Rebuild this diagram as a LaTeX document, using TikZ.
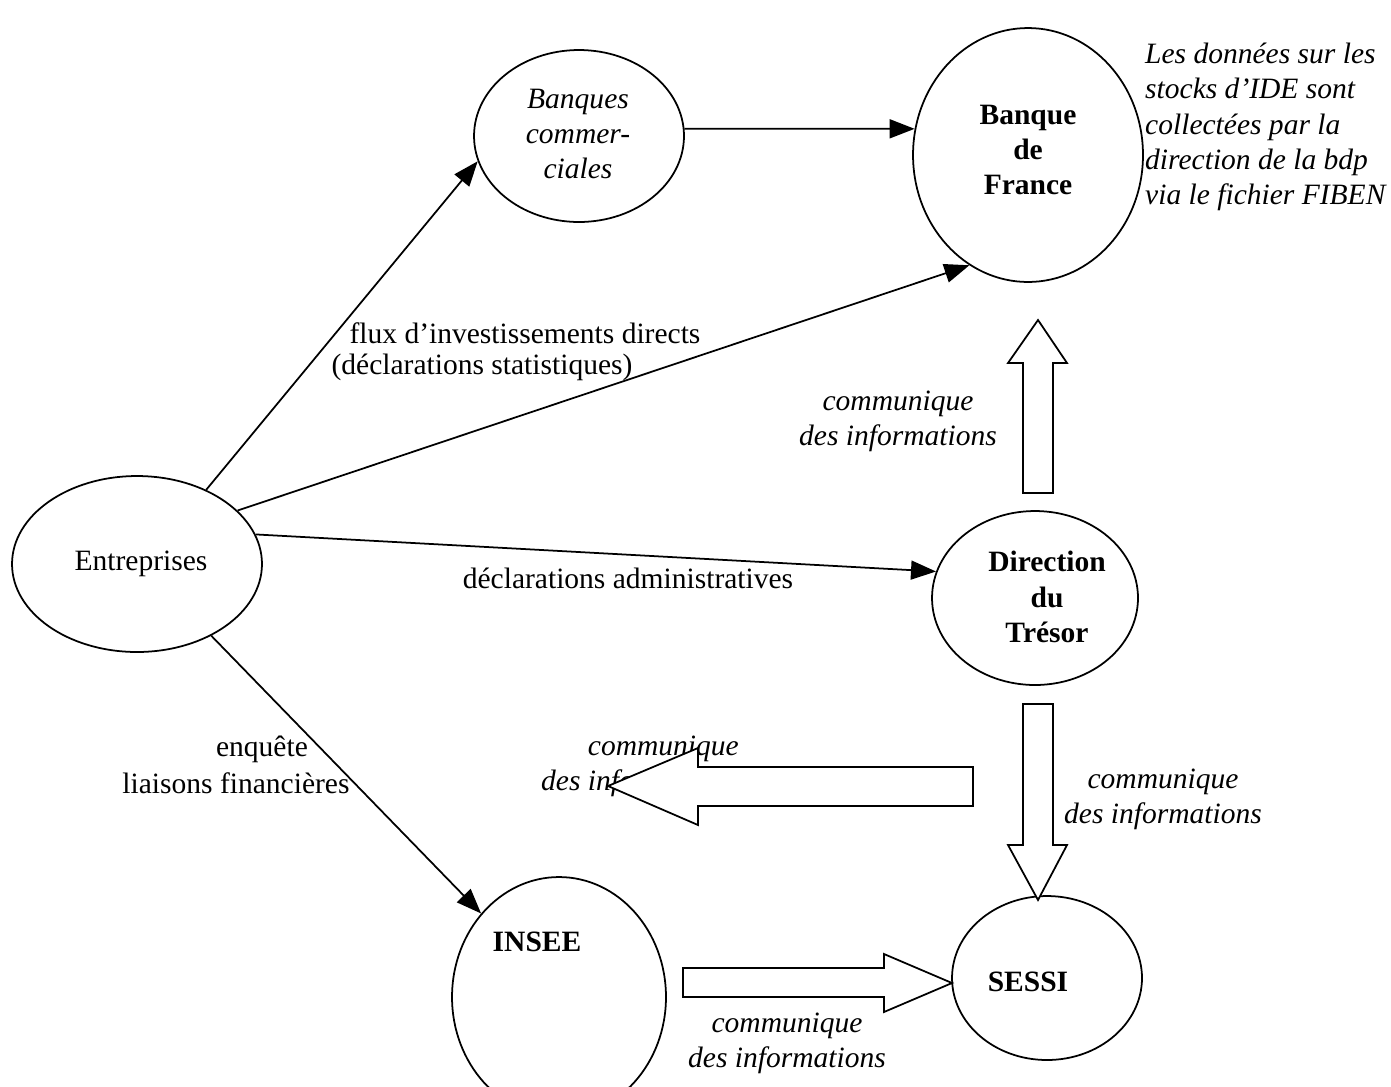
\documentclass[tikz,border=0pt]{standalone}
\usepackage{fontspec}
\setmainfont{Liberation Serif}
\usetikzlibrary{arrows.meta, positioning, shapes.geometric}

\tikzset{
  every node/.style={font=\fontsize{16.8}{20}\selectfont},
  org/.style={draw, ellipse, line width=1pt, inner sep=0pt},
  flow/.style={line width=1pt, -{Triangle[length=0.5cm, width=0.38cm]}},
  bigarrow/.style={draw, fill=white, line width=1pt, line join=miter},
  info/.style={font=\fontsize{16.8}{20}\selectfont\itshape, align=center},
  bold/.style={font=\fontsize{16.8}{20}\selectfont\bfseries, align=center},
}

\begin{document}
\begin{tikzpicture}[x=0.02cm, y=-0.02cm]
			\clip (0,0) rectangle (1391,1086);

			% Draw the ellipses
			\node[org, minimum width=5cm, minimum height=3.52cm] (ent) at (137,564) {};
			\node[org, minimum width=4.2cm, minimum height=3.44cm] (banq) at (579,136) {};
			\node[org, minimum width=4.6cm, minimum height=5.08cm] (bdf) at (1028,155) {};
			\node[org, minimum width=4.12cm, minimum height=3.48cm] (tresor) at (1035,598) {};
			\node[org, minimum width=4.28cm, minimum height=4.8cm] (insee) at (559,997) {};
			\node[org, minimum width=3.8cm, minimum height=3.28cm] (sessi) at (1047,978) {};

			% Texts inside the ellipses
			\node (entText) at (141,564) {Entreprises};
			\node[info] (banqText) at (578,134) {Banques\\commer-\\ciales};
			\node[bold] (bdfText) at (1028,150) {Banque\\de\\France};
			\node[bold] (tresorText) at (1047,597) {Direction\\du\\Trésor};
			\node[bold] (inseeText) at (537,942) {INSEE};
			\node[bold] (sessiText) at (1028,982) {SESSI};

			% Note on the right
			\node[info, align=left, anchor=north west] (note) at (1139,37)
			  {Les données sur les\\stocks d’IDE sont\\collectées par la\\direction de la bdp\\via le fichier FIBEN};

			% Draw the arrows between the bodies
			\draw[flow] (ent.47) -- (banq.194);
			\draw[flow] (ent.28) -- (bdf.242);
			\draw[flow] (ent.14) -- (tresor.165);
			\draw[flow] (banq.4) -- (bdf.167);
			\draw[flow] (ent.-44) -- (insee.133);

			% Labels of the arrows
			\node (fluxA) at (525,333) {flux d’investissements directs};
			\node (fluxB) at (482,367) {(déclarations statistiques)};
			\node (admin) at (628,578) {déclarations administratives};
			\node (enqA) at (262,749) {enquête};
			\node (enqB) at (236,783) {liaisons financières};

			\node[info] (comUp) at (898,421) {communique\\des informations};
			\node[info, align=right, anchor=east] (comLeft) at (745,766) {communique\\des informations};
			\node[info] (comDown) at (1163,799) {communique\\des informations};
			\node[info] (comBottom) at (787,1043) {communique\\des informations};

			% Draw the block arrows
			\draw[bigarrow] (1023,493) -- (1053,493) -- (1053,363) -- (1067,363) -- (1038,320) -- (1008,363) -- (1023,363) -- cycle;
			\draw[bigarrow] (1023,704) -- (1053,704) -- (1053,845) -- (1067,845) -- (1038,900) -- (1008,845) -- (1023,845) -- cycle;
			\draw[bigarrow] (973,767) -- (973,806) -- (698,806) -- (698,825) -- (608,786) -- (698,748) -- (698,767) -- cycle;
			\draw[bigarrow] (683,968) -- (884,968) -- (884,954) -- (952,983) -- (884,1012) -- (884,997) -- (683,997) -- cycle;

		\end{tikzpicture}
\end{document}
